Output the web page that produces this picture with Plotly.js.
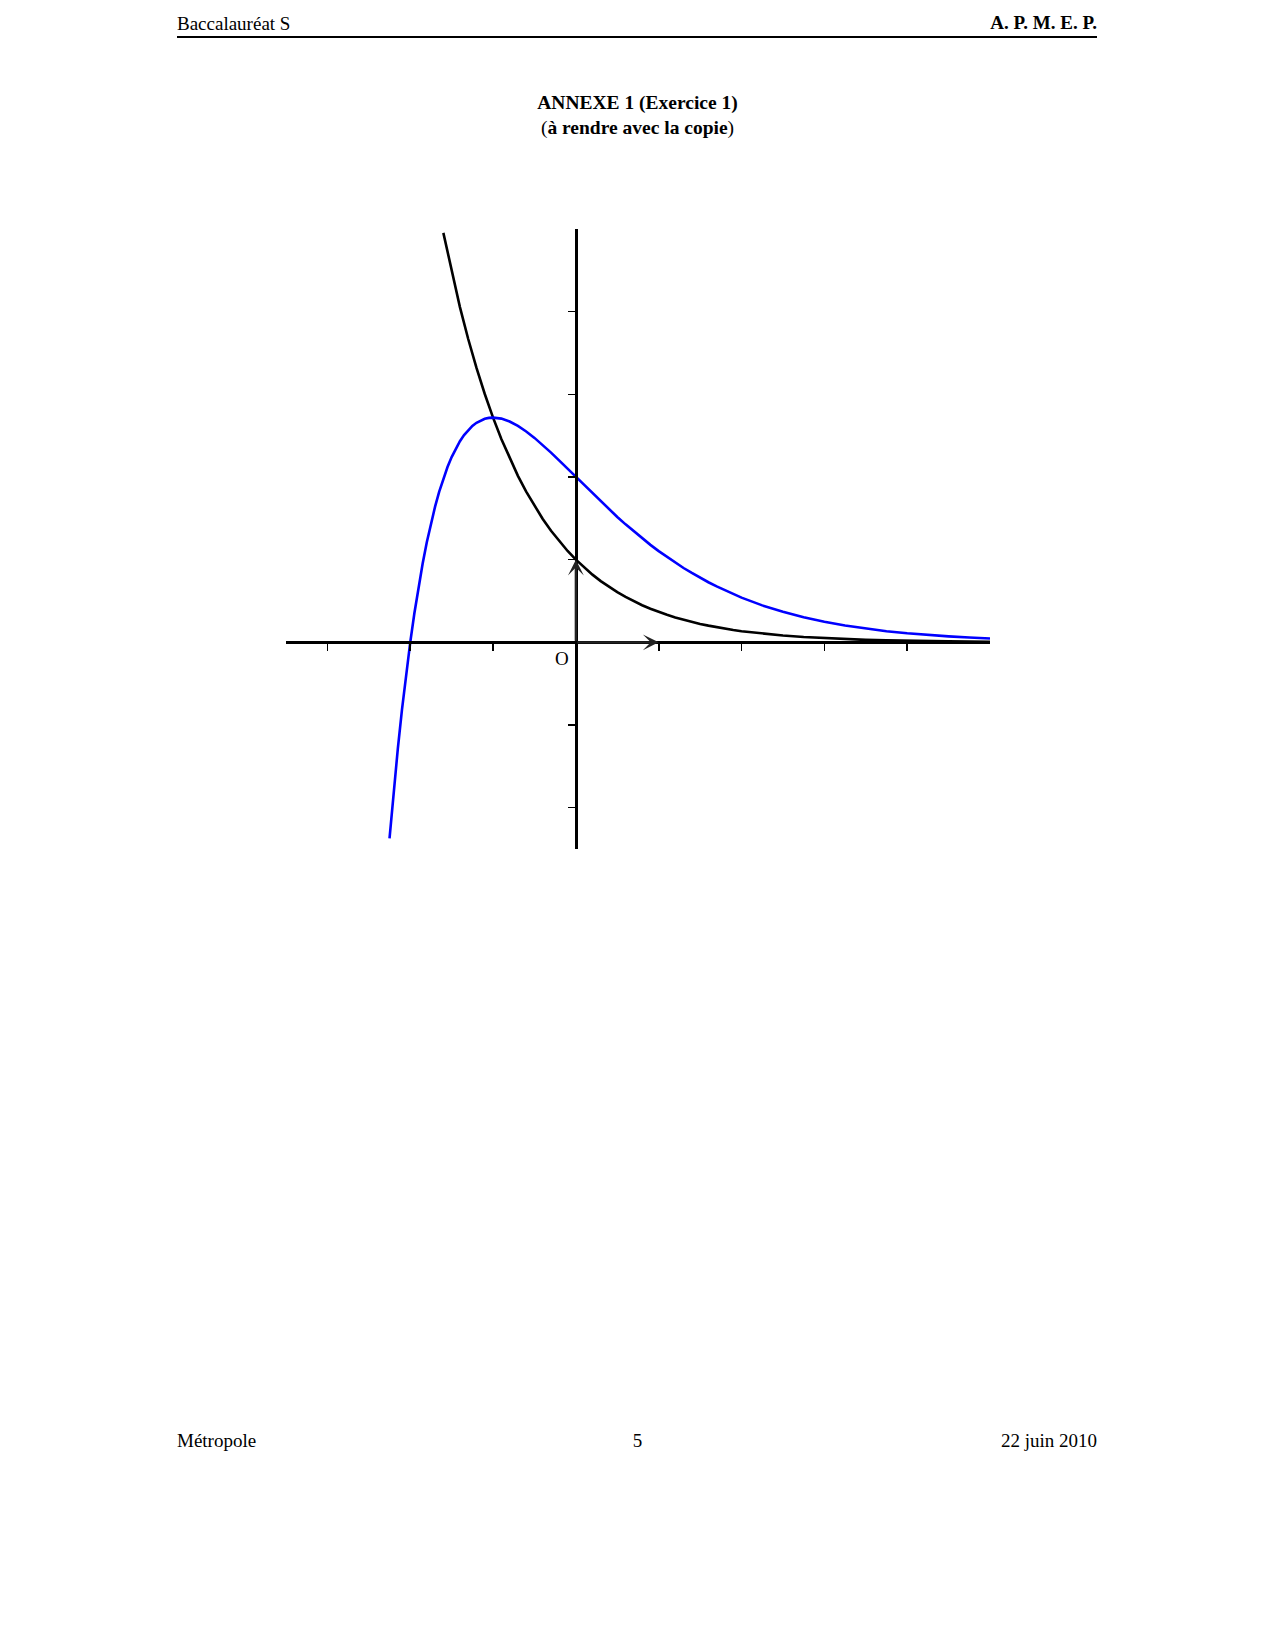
<!DOCTYPE html>
<html>
<head>
<meta charset="utf-8">
<script src="https://cdn.plot.ly/plotly-3.0.1.min.js"></script>
<style>
  html, body { margin: 0; padding: 0; background: #fff; }
  #page { position: relative; width: 1275px; height: 1650px; overflow: hidden; }
  #chart { position: absolute; left: 0; top: 0; width: 1275px; height: 1650px; }
  .t { position: absolute; font-family: "Liberation Serif", "DejaVu Serif", serif; color: #000; white-space: nowrap; line-height: 1; }
</style>
</head>
<body>
<div id="page">
  <div id="chart"></div>
  <div class="t" style="left:177px; top:14px; font-size:19px;">Baccalauréat S</div>
  <div class="t" style="right:178px; top:13px; font-size:19px; font-weight:bold;">A. P. M. E. P.</div>
  <div style="position:absolute; left:177px; top:36px; width:920px; height:1.6px; background:#000;"></div>
  <div class="t" style="left:0; width:1275px; text-align:center; top:93px; font-size:19.5px; font-weight:bold;">ANNEXE 1 (Exercice 1)</div>
  <div class="t" style="left:0; width:1275px; text-align:center; top:118px; font-size:19.5px;">(<b>à rendre avec la copie</b>)</div>
  <div class="t" style="left:177px; top:1431px; font-size:19px;">Métropole</div>
  <div class="t" style="left:0; width:1275px; text-align:center; top:1431px; font-size:19px;">5</div>
  <div class="t" style="right:178px; top:1431px; font-size:19px;">22 juin 2010</div>
</div>
<script>
// Black curve
const blackX = [-1.6, -1.5, -1.4, -1.3, -1.2, -1.1, -1.0, -0.9, -0.8, -0.7, -0.6, -0.5, -0.4, -0.3, -0.2, -0.1,
  0, 0.1, 0.2, 0.3, 0.4, 0.5, 0.6, 0.7, 0.8, 0.9, 1.0, 1.1, 1.2, 1.3, 1.4, 1.5, 1.6, 1.7, 1.8, 1.9, 2.0,
  2.25, 2.5, 2.75, 3.0, 3.25, 3.5, 3.75, 4.0, 4.25, 4.5, 4.75, 5.0];
const blackY = [4.953, 4.482, 4.055, 3.669, 3.320, 3.004, 2.718, 2.460, 2.226, 2.014, 1.822, 1.649, 1.492, 1.350, 1.221, 1.105,
  1.000, 0.905, 0.819, 0.741, 0.670, 0.607, 0.549, 0.497, 0.449, 0.407, 0.368, 0.333, 0.301, 0.273, 0.247, 0.223, 0.202, 0.183, 0.165, 0.150, 0.135,
  0.105, 0.082, 0.064, 0.050, 0.039, 0.030, 0.024, 0.018, 0.014, 0.011, 0.009, 0.007];

// Blue curve
const blueX = [-2.25, -2.2, -2.15, -2.1, -2.05, -2.0, -1.95, -1.9, -1.85, -1.8, -1.75, -1.7, -1.65, -1.6, -1.55, -1.5,
  -1.45, -1.4, -1.35, -1.3, -1.25, -1.2, -1.15, -1.1, -1.05, -1.0, -0.9, -0.8, -0.7, -0.6, -0.5, -0.4, -0.3, -0.2, -0.1,
  0, 0.1, 0.2, 0.3, 0.4, 0.5, 0.6, 0.7, 0.8, 0.9, 1.0, 1.1, 1.2, 1.3, 1.4, 1.5, 1.6, 1.7, 1.8, 1.9, 2.0,
  2.25, 2.5, 2.75, 3.0, 3.25, 3.5, 3.75, 4.0, 4.25, 4.5, 4.75, 5.0];
const blueY = [-2.372, -1.805, -1.288, -0.817, -0.388, 0.000, 0.351, 0.669, 0.954, 1.210, 1.439, 1.642, 1.822, 1.981, 2.120, 2.241,
  2.345, 2.433, 2.507, 2.568, 2.618, 2.656, 2.684, 2.704, 2.715, 2.718, 2.706, 2.671, 2.618, 2.551, 2.473, 2.387, 2.295, 2.198, 2.100,
  2.000, 1.900, 1.801, 1.704, 1.609, 1.516, 1.427, 1.341, 1.258, 1.179, 1.104, 1.033, 0.964, 0.899, 0.839, 0.781, 0.727, 0.676, 0.628, 0.584, 0.541,
  0.447, 0.369, 0.304, 0.249, 0.204, 0.166, 0.135, 0.110, 0.089, 0.072, 0.058, 0.047];

// Axis ticks
const xTicks = [-3, -2, -1, 1, 2, 3, 4];
const yTicks = [-2, -1, 1, 2, 3, 4];
const xRange = [-3.5, 5];
const yRange = [-2.5, 5];

const traces = [
  { x: blackX, y: blackY, mode: 'lines', line: { color: '#000000', width: 2.6, shape: 'linear' }, hoverinfo: 'skip', showlegend: false },
  { x: blueX, y: blueY, mode: 'lines', line: { color: '#0000ff', width: 2.6, shape: 'linear' }, hoverinfo: 'skip', showlegend: false }
];

const layout = {
  width: 1275, height: 1650,
  margin: { l: 286, r: 285, t: 229, b: 801, pad: 0 },
  paper_bgcolor: '#fff', plot_bgcolor: 'rgba(0,0,0,0)',
  showlegend: false,
  xaxis: {
    range: xRange, anchor: 'free', position: (0 - yRange[0]) / (yRange[1] - yRange[0]),
    showgrid: false, zeroline: false, showline: true, linecolor: '#000', linewidth: 3,
    ticks: 'outside', tickvals: xTicks, ticklen: 7, tickwidth: 1.6, tickcolor: '#000',
    showticklabels: false, fixedrange: true
  },
  yaxis: {
    range: yRange, anchor: 'free', position: (0 - xRange[0]) / (xRange[1] - xRange[0]),
    showgrid: false, zeroline: false, showline: true, linecolor: '#000', linewidth: 3,
    ticks: 'outside', tickvals: yTicks, ticklen: 7, tickwidth: 1.6, tickcolor: '#000',
    showticklabels: false, fixedrange: true
  },
  annotations: [
    { x: 1, y: 0, ax: 0, ay: 0, xref: 'x', yref: 'y', axref: 'x', ayref: 'y', text: '', showarrow: true,
      arrowhead: 3, arrowsize: 1.1, arrowwidth: 2.4, arrowcolor: '#222', standoff: 0, startstandoff: 0 },
    { x: 0, y: 1, ax: 0, ay: 0, xref: 'x', yref: 'y', axref: 'x', ayref: 'y', text: '', showarrow: true,
      arrowhead: 3, arrowsize: 1.1, arrowwidth: 2.4, arrowcolor: '#222', standoff: 0, startstandoff: 0 },
    { x: 0, y: 0, xref: 'x', yref: 'y', text: 'O', showarrow: false, xanchor: 'center', yanchor: 'middle',
      xshift: -14, yshift: -16, font: { family: 'Liberation Serif, DejaVu Serif, serif', size: 19, color: '#000' } }
  ]
};

Plotly.newPlot('chart', traces, layout, { staticPlot: true, displayModeBar: false });
</script>
</body>
</html>
